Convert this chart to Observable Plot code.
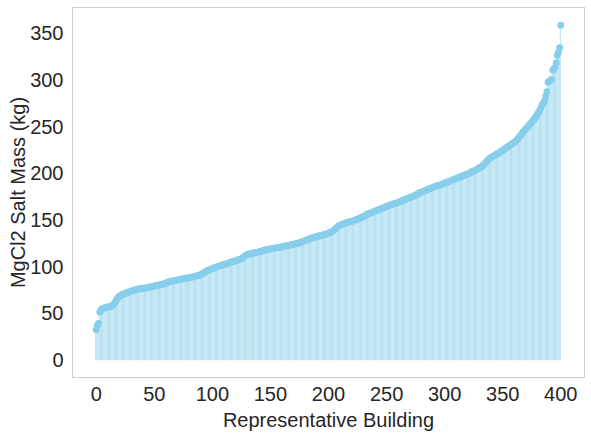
<!DOCTYPE html>
<html>
<head>
<meta charset="utf-8">
<script src="https://cdn.jsdelivr.net/npm/d3@7"></script>
<script src="https://cdn.jsdelivr.net/npm/@observablehq/plot@0.6"></script>
<style>
  html, body { margin: 0; padding: 0; background: #fff; }
  #chart svg { display: block; }
</style>
</head>
<body>
<div id="chart"></div>
<script>
// MgCl2 salt mass per representative building (sorted), kg
const saltMass = [
  33, 38, 40, 52, 54, 55.5, 56, 56.5, 57, 57,
  57.5, 57.5, 58, 58, 59, 60, 62, 64, 66, 68,
  69, 70, 70.5, 71, 71.5, 72, 72.5, 73, 73.5, 74,
  74.5, 75, 75, 75.5, 76, 76, 76.5, 77, 77, 77,
  77.5, 77.5, 78, 78, 78, 78.5, 79, 79, 79, 79.5,
  80, 80, 80.5, 80.5, 81, 81, 81.5, 82, 82, 82.5,
  83, 83.5, 84, 84.5, 85, 85, 85.5, 85.5, 86, 86,
  86.5, 86.5, 87, 87, 87.5, 87.5, 88, 88, 88.5, 88.5,
  89, 89, 89.5, 89.5, 90, 90, 90.5, 91, 91, 91.5,
  92, 93, 93.5, 94.5, 95, 96, 96.5, 97, 97.5, 98,
  98.5, 99, 99.5, 100, 100.5, 101, 101.5, 102, 102, 102.5,
  103, 103, 103.5, 104, 104.5, 105, 105.5, 106, 106, 106.5,
  107, 107.5, 108, 108, 108.5, 109, 110, 111, 112, 113,
  113.5, 114, 114, 114.5, 115, 115, 115.5, 115.5, 116, 116,
  116.5, 117, 117, 117.5, 118, 118, 118.5, 119, 119, 119.5,
  119.5, 120, 120, 120.5, 120.5, 121, 121, 121, 121.5, 121.5,
  122, 122, 122.5, 122.5, 123, 123, 123.5, 124, 124, 124.5,
  124.5, 125, 125, 125.5, 126, 126, 126.5, 127, 127.5, 128,
  128.5, 129, 129.5, 130, 130.5, 131, 131.5, 132, 132, 132.5,
  133, 133, 133.5, 134, 134, 134.5, 135, 135, 135.5, 136,
  136.5, 137, 137.5, 138, 139, 140, 141, 142.5, 143.5, 144.5,
  145, 145.5, 146, 146.5, 147, 147.5, 148, 148, 148.5, 149,
  149, 149.5, 150, 150.5, 151, 151.5, 152, 152.5, 153, 153.5,
  154, 155, 155.5, 156.5, 157, 157.5, 158, 158.5, 159, 159.5,
  160, 160.5, 161, 161.5, 162, 162.5, 163, 163.5, 164, 164.5,
  165, 165.5, 166, 166.5, 167, 167.5, 168, 168, 168.5, 169,
  169.5, 170, 170.5, 171, 171.5, 172, 172.5, 173, 173.5, 174,
  174.5, 175, 175.5, 176, 176.5, 177, 178, 178.5, 179.5, 180,
  180.5, 181, 181.5, 182, 182.5, 183, 183.5, 184, 184.5, 185,
  185.5, 186, 186.5, 187, 187, 187.5, 188, 188.5, 189, 189.5,
  190, 190.5, 191, 191.5, 192, 192.5, 193, 193.5, 194, 194.5,
  195, 195.5, 196, 196.5, 197, 197.5, 198, 198.5, 199, 199.5,
  200, 200.5, 201, 202, 202.5, 203, 203.5, 204, 205, 205.5,
  206.5, 207, 208, 209, 210, 211.5, 213, 214.5, 215.5, 216.5,
  217.5, 218, 219, 219.5, 220.5, 221, 222, 222.5, 223.5, 224.5,
  225, 226, 227, 228, 228.5, 229.5, 230.5, 231, 232, 233,
  233.5, 234.5, 236, 237.5, 239, 240.5, 242, 244, 245.5, 247,
  248, 249.5, 251, 252.5, 254, 255.5, 257, 258.5, 260, 262,
  264, 266, 268, 271, 274, 276, 278, 283, 288, 298,
  299, 300, 301, 311, 312, 314, 319, 327, 330, 335, 359
];
const xTicks = [0, 50, 100, 150, 200, 250, 300, 350, 400];
const yTicks = [0, 50, 100, 150, 200, 250, 300, 350];
const xTitle = "Representative Building";
const yTitle = "MgCl2 Salt Mass (kg)";

const data = saltMass.map((v, i) => ({i, v}));
const textColor = "#262626";

const chart = Plot.plot({
  width: 591,
  height: 433,
  marginLeft: 72,
  marginRight: 7,
  marginTop: 7,
  marginBottom: 56,
  style: {fontFamily: "'Liberation Sans', Arial, sans-serif", fontSize: "20px", color: textColor, background: "#fff"},
  x: {domain: [-20.4, 420.4]},
  y: {domain: [-18, 378]},
  marks: [
    Plot.rectY(data, {x1: d => d.i - 0.4, x2: d => d.i + 0.4, y: "v", fill: "#87ceeb", fillOpacity: 0.68}),
    Plot.dot(data, {x: "i", y: "v", r: 3.4, fill: "#87ceeb", stroke: "none"}),
    Plot.frame({stroke: "#cccccc", strokeWidth: 1}),
    Plot.axisX(xTicks, {tickSize: 0, tickPadding: 9, label: null, fontSize: 20, fill: textColor}),
    Plot.axisY(yTicks, {tickSize: 0, tickPadding: 9, label: null, fontSize: 20, fill: textColor}),
    Plot.text([xTitle], {frameAnchor: "bottom", dy: 43, lineAnchor: "middle", textAnchor: "middle", fontSize: 20, fill: textColor}),
    Plot.text([yTitle], {frameAnchor: "left", dx: -54, rotate: -90, lineAnchor: "middle", textAnchor: "middle", fontSize: 20, fill: textColor})
  ]
});
document.getElementById("chart").appendChild(chart);
</script>
</body>
</html>
